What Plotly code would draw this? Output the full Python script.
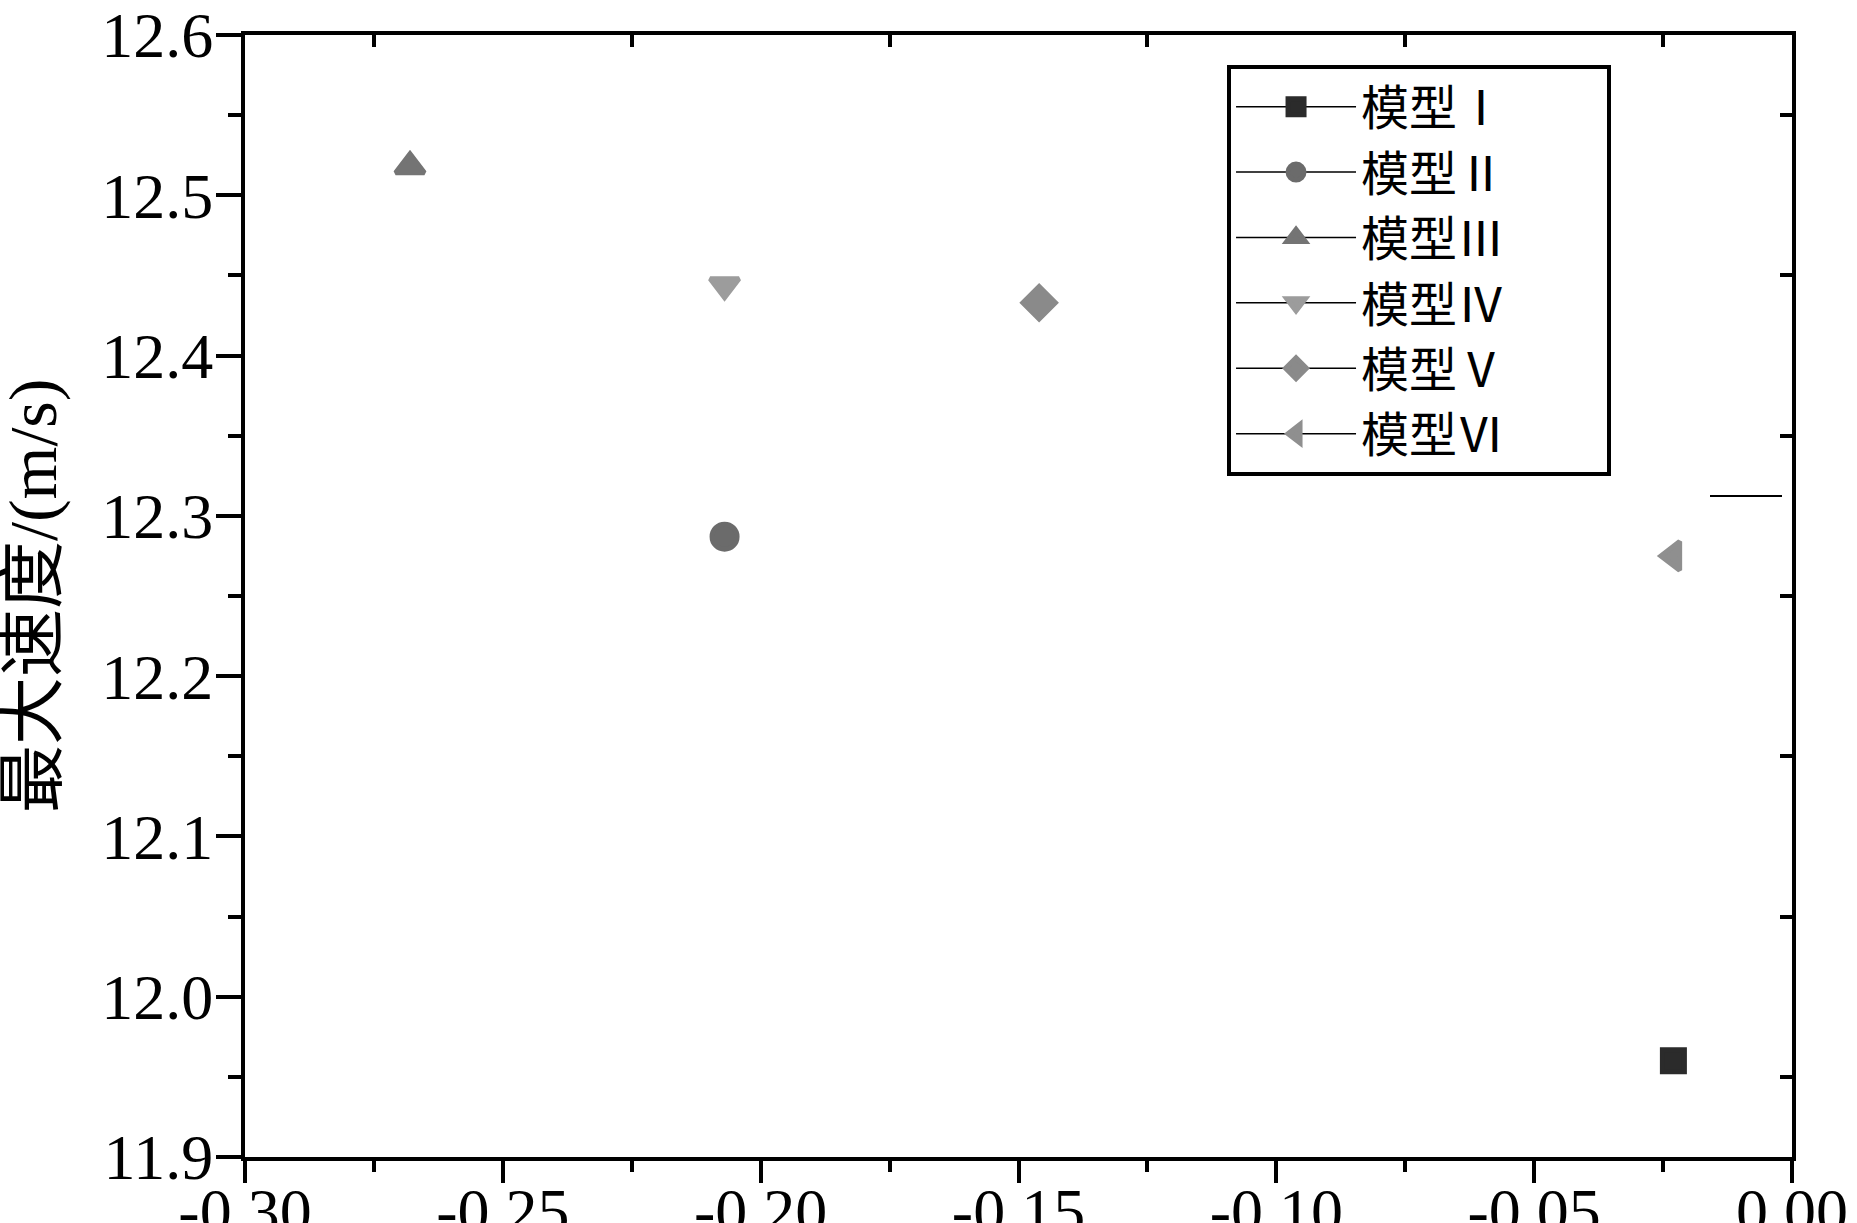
import numpy as np
import plotly.graph_objects as go

# ---- data ----
series_names = ["模型Ⅰ", "模型Ⅱ", "模型Ⅲ", "模型Ⅳ", "模型Ⅴ", "模型Ⅵ"]
x_values = [-0.023, -0.207, -0.268, -0.207, -0.146, -0.023]
y_values = [11.960, 12.287, 12.518, 12.444, 12.433, 12.275]
symbols = ["square", "circle", "triangle-up", "triangle-down", "diamond", "triangle-left"]
colors = ["#2b2b2b", "#6b6b6b", "#747474", "#9c9c9c", "#8a8a8a", "#8f8f8f"]

x_tickvals = [-0.30, -0.25, -0.20, -0.15, -0.10, -0.05, 0.00]
x_ticktext = ["-0.30", "-0.25", "-0.20", "-0.15", "-0.10", "-0.05", "0.00"]
y_tickvals = [11.9, 12.0, 12.1, 12.2, 12.3, 12.4, 12.5, 12.6]
y_ticktext = ["11.9", "12.0", "12.1", "12.2", "12.3", "12.4", "12.5", "12.6"]
y_title = "最大速度/(m/s)"

X_RANGE = [-0.30, 0.00]
Y_RANGE = [11.9, 12.6]

W, H = 1857, 1223
ML, MR, MT, MB = 245, 65, 35, 66

TICK_FONT = dict(family="Liberation Serif, Times New Roman, serif", size=64, color="black")
CJK_FONT = "Liberation Serif, Noto Sans CJK SC, serif"

fig = go.Figure()
for name, xv, yv, sym, col in zip(series_names, x_values, y_values, symbols, colors):
    size = 22 if sym == "square" else 25
    fig.add_trace(go.Scatter(
        x=[xv], y=[yv], name=name + "\u3000\u3000", mode="lines+markers",
        marker=dict(symbol=sym, size=size, color=col, line=dict(width=5, color=col)),
        line=dict(color="black", width=1.5),
    ))

# helper trace so the mirrored (top/right) axes are drawn
fig.add_trace(go.Scatter(x=[None], y=[None], xaxis="x2", yaxis="y2",
                         showlegend=False, hoverinfo="skip"))

top_minor = list(np.arange(-0.275, 0.0, 0.05))
right_minor = list(np.arange(11.95, 12.6, 0.1))

axis_common = dict(showgrid=False, zeroline=False, showline=True, linecolor="black",
                   linewidth=4, tickcolor="black", tickwidth=4, automargin=False)

fig.update_layout(
    width=W, height=H,
    margin=dict(l=ML, r=MR, t=MT, b=MB),
    template="none",
    paper_bgcolor="white", plot_bgcolor="white",
    showlegend=True,
    xaxis=dict(range=X_RANGE, tickmode="array", tickvals=x_tickvals, ticktext=x_ticktext,
               ticks="outside", ticklen=22, tickfont=TICK_FONT, ticklabelstandoff=-27,
               minor=dict(tickmode="linear", tick0=-0.275, dtick=0.05, ticks="outside",
                          ticklen=11, tickwidth=4, tickcolor="black", showgrid=False),
               **axis_common),
    yaxis=dict(range=Y_RANGE, tickmode="array", tickvals=y_tickvals, ticktext=y_ticktext,
               ticks="outside", ticklen=25, tickfont=TICK_FONT, ticklabelstandoff=-10,
               minor=dict(tickmode="linear", tick0=11.95, dtick=0.1, ticks="outside",
                          ticklen=13, tickwidth=4, tickcolor="black", showgrid=False),
               **axis_common),
    xaxis2=dict(range=X_RANGE, overlaying="x", side="top", anchor="y",
                tickmode="array", tickvals=top_minor, ticks="inside", ticklen=12,
                showticklabels=False, **axis_common),
    yaxis2=dict(range=Y_RANGE, overlaying="y", side="right", anchor="x",
                tickmode="array", tickvals=right_minor, ticks="inside", ticklen=12,
                showticklabels=False, **axis_common),
    legend=dict(x=0.6348, y=0.9733, xanchor="left", yanchor="top",
                bgcolor="white", bordercolor="black", borderwidth=4,
                font=dict(family=CJK_FONT, size=48, color="black"),
                itemwidth=120, tracegroupgap=0),
    annotations=[dict(text=y_title, xref="paper", yref="paper",
                      x=(33 - ML) / (W - ML - MR), y=0.5, xanchor="center", yanchor="middle",
                      textangle=-90, showarrow=False,
                      font=dict(family=CJK_FONT, size=68, color="black"))],
    shapes=[dict(type="line", xref="paper", yref="paper",
                 x0=(1710 - ML) / (W - ML - MR), x1=(1782 - ML) / (W - ML - MR),
                 y0=1 - (496 - MT) / (H - MT - MB), y1=1 - (496 - MT) / (H - MT - MB),
                 line=dict(color="black", width=2))],
)

fig.write_html("out.html", config={"displayModeBar": False},
               post_script="document.body.style.margin='0';")
